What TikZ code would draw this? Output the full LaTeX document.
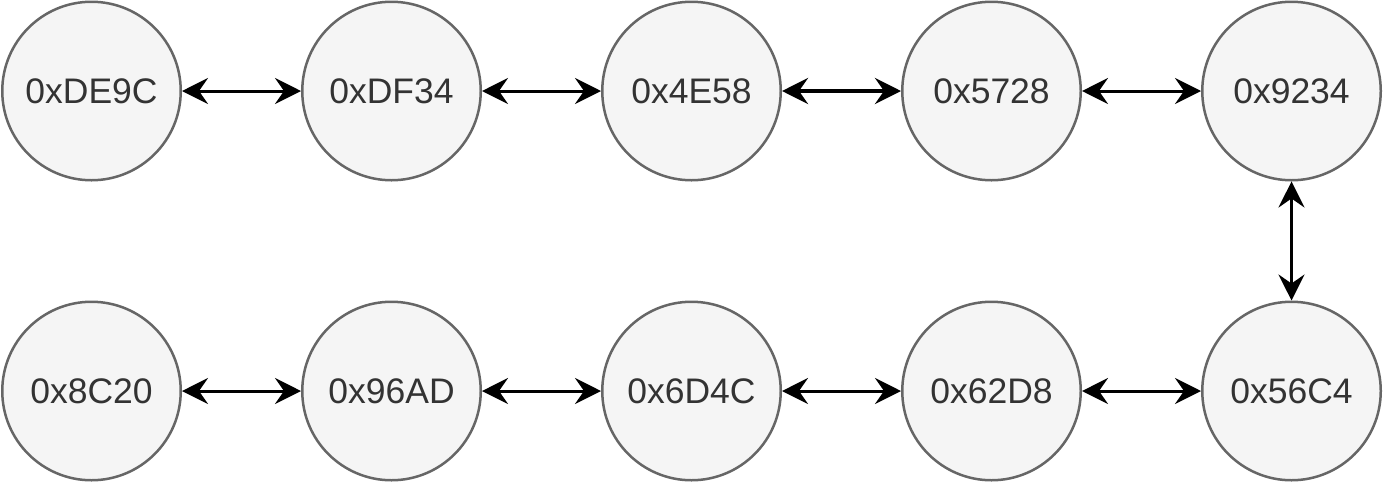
\documentclass[tikz,border=0pt]{standalone}
\usepackage{fontspec}
\setmainfont{Liberation Sans}
\usetikzlibrary{arrows.meta}
\definecolor{nodefill}{HTML}{F5F5F5}
\definecolor{nodeline}{HTML}{666666}
\definecolor{nodetext}{HTML}{333333}
\tikzset{
  addr/.style={circle, draw=nodeline, fill=nodefill, line width=2.5pt, minimum size=178.5pt, inner sep=0pt,
    text=nodetext, font=\fontsize{35.5}{40}\selectfont},
  link/.style={line width=3pt, {Stealth[length=26pt,width=26pt,inset=9pt]}-{Stealth[length=26pt,width=26pt,inset=9pt]}}
}
\begin{document}
\begin{tikzpicture}[x=1pt,y=-1pt]
\useasboundingbox (0,0) rectangle (1383,483);
\node[addr] (a1) at (91.5,91) {0xDE9C};
\node[addr] (a2) at (391.5,91) {0xDF34};
\node[addr] (a3) at (691.5,91) {0x4E58};
\node[addr] (a4) at (991.5,91) {0x5728};
\node[addr] (a5) at (1291.5,91) {0x9234};
\node[addr] (b5) at (1291.5,391) {0x56C4};
\node[addr] (b4) at (991.5,391) {0x62D8};
\node[addr] (b3) at (691.5,391) {0x6D4C};
\node[addr] (b2) at (391.5,391) {0x96AD};
\node[addr] (b1) at (91.5,391) {0x8C20};
\draw[link] (a1.east) -- (a2.west);
\draw[link] (a2.east) -- (a3.west);
\draw[link, line width=4pt] (a3.east) -- (a4.west);
\draw[link] (a4.east) -- (a5.west);
\draw[link] (a5.south) -- (b5.north);
\draw[link] (b1.east) -- (b2.west);
\draw[link] (b2.east) -- (b3.west);
\draw[link] (b3.east) -- (b4.west);
\draw[link] (b4.east) -- (b5.west);
\end{tikzpicture}
\end{document}
